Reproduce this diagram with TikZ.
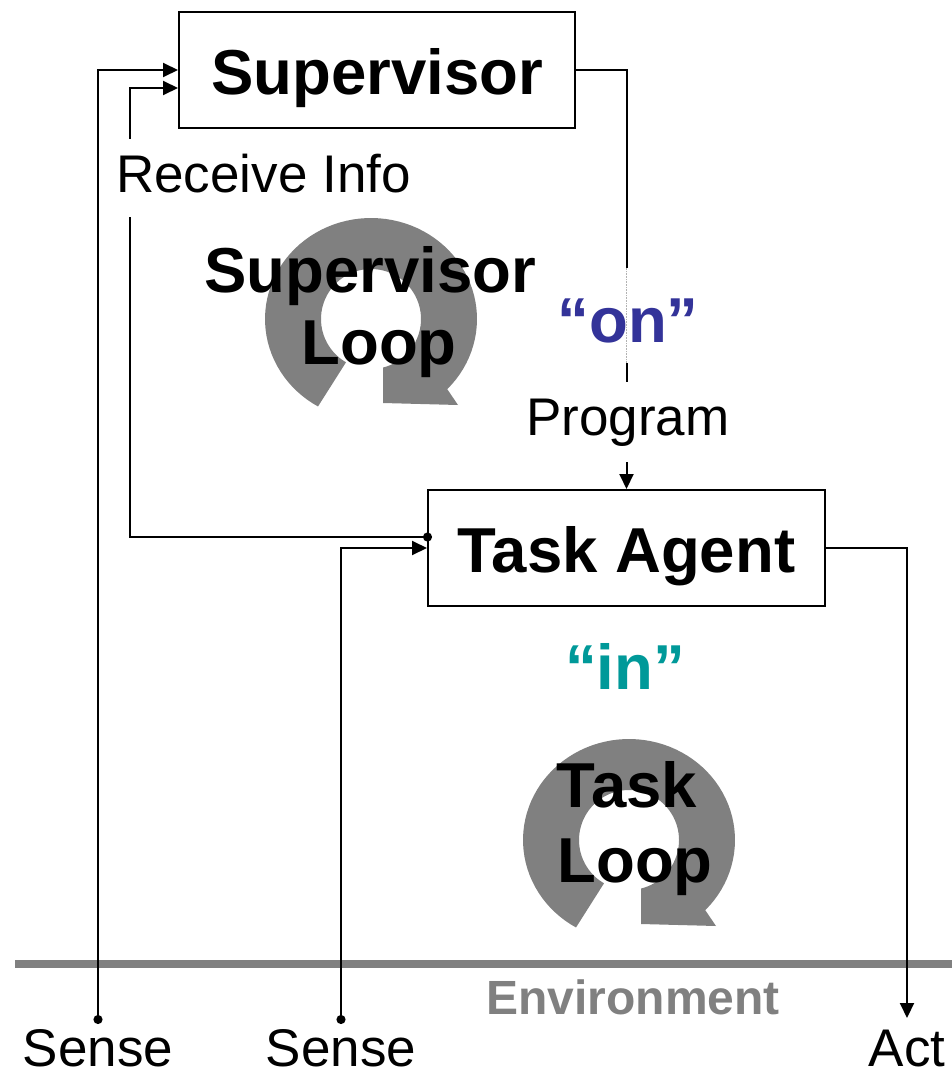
\documentclass[tikz,border=0pt]{standalone}
\usepackage{fontspec}
\setmainfont{Liberation Sans}
\usetikzlibrary{arrows.meta}
\definecolor{onblue}{HTML}{333399}
\definecolor{inteal}{HTML}{009999}
\definecolor{loopgray}{HTML}{808080}
\begin{document}
\begin{tikzpicture}[x=1pt,y=-1pt,
  box/.style={draw, line width=2pt, fill=white, inner sep=0pt, text height=50pt, text depth=2pt, font=\fontsize{63.5}{75}\selectfont\bfseries},
  big/.style={inner sep=0pt, anchor=base, font=\fontsize{63.5}{75}\selectfont\bfseries},
  lab/.style={inner sep=0pt, anchor=base, font=\fontsize{53}{63}\selectfont},
  conn/.style={line width=2pt, -{Triangle[length=15pt,width=14pt]}},
  dotconn/.style={line width=2pt, {Circle[length=9pt]}-{Triangle[length=15pt,width=14pt]}},
  loopshape/.style={fill=loopgray},
  envline/.style={line width=8pt, draw=loopgray},
]
\useasboundingbox (0,0) rectangle (952,1073);

% circular loop arrows
\fill[loopshape] plot[domain=120:404,samples=80] ({371+106*cos(\x)},{319+101*sin(\x)}) -- (458,405) -- (383,403) -- (383,368) -- plot[domain=120:436,samples=80] ({371+50*cos(556-\x)},{319+50*sin(556-\x)}) -- cycle;
\begin{scope}[shift={(258,521)}]
\fill[loopshape] plot[domain=120:404,samples=80] ({371+106*cos(\x)},{319+101*sin(\x)}) -- (458,405) -- (383,403) -- (383,368) -- plot[domain=120:436,samples=80] ({371+50*cos(556-\x)},{319+50*sin(556-\x)}) -- cycle;
\end{scope}

\node[big] (sl1) at (370,292) {Supervisor};
\node[big] (sl2) at (379,364) {Loop};
\node[big] (tl1) at (627,807) {Task};
\node[big] (tl2) at (635,882) {Loop};

% environment
\draw[envline] (15,964) -- (952,964);
\node[anchor=base, inner sep=0pt, font=\fontsize{48}{58}\selectfont\bfseries, text=loopgray] (env) at (633,1014) {Environment};

% boxes
\node[box, minimum width=396pt, minimum height=116pt] (sup) at (377,70) {Supervisor};
\node[box, minimum width=397pt, minimum height=116pt] (ta) at (626.5,548) {Task Agent};

\coordinate (s1) at (98,1024);
\coordinate (s2) at (341,1024);
\coordinate (act) at (907,1018);
\coordinate (rc) at (130,88);

% connectors
\draw[dotconn] (s1) |- (sup.west);
\draw[dotconn] (s2) |- (ta.west);
\draw[dotconn] ([xshift=5pt,yshift=11pt]ta.west) -| (rc) -- ([yshift=-18pt]sup.west);
\draw[conn] (sup.east) -| (ta.north);
\draw[conn] (ta.east) -| (act);

% labels on connectors
\node[lab, fill=white, anchor=base west, inner xsep=2pt, text height=53pt, text depth=25pt] (ri) at (114,192) {Receive Info};
\node[lab, fill=white, text height=53pt, text depth=27pt] (prog) at (628,435) {Program};
\node[big, fill=white, text=onblue, text height=74pt, text depth=21pt] (on) at (628,342) {“on”};
\draw[gray!60, line width=0.6pt, densely dotted] (on.north -| ta.north) -- (on.south -| ta.north);
\node[big, text=inteal] (in) at (625,689) {“in”};

% bottom labels
\node[lab] (sense1) at (98,1066) {Sense};
\node[lab] (sense2) at (341,1066) {Sense};
\node[lab] (actl) at (907,1066) {Act};
\end{tikzpicture}
\end{document}
